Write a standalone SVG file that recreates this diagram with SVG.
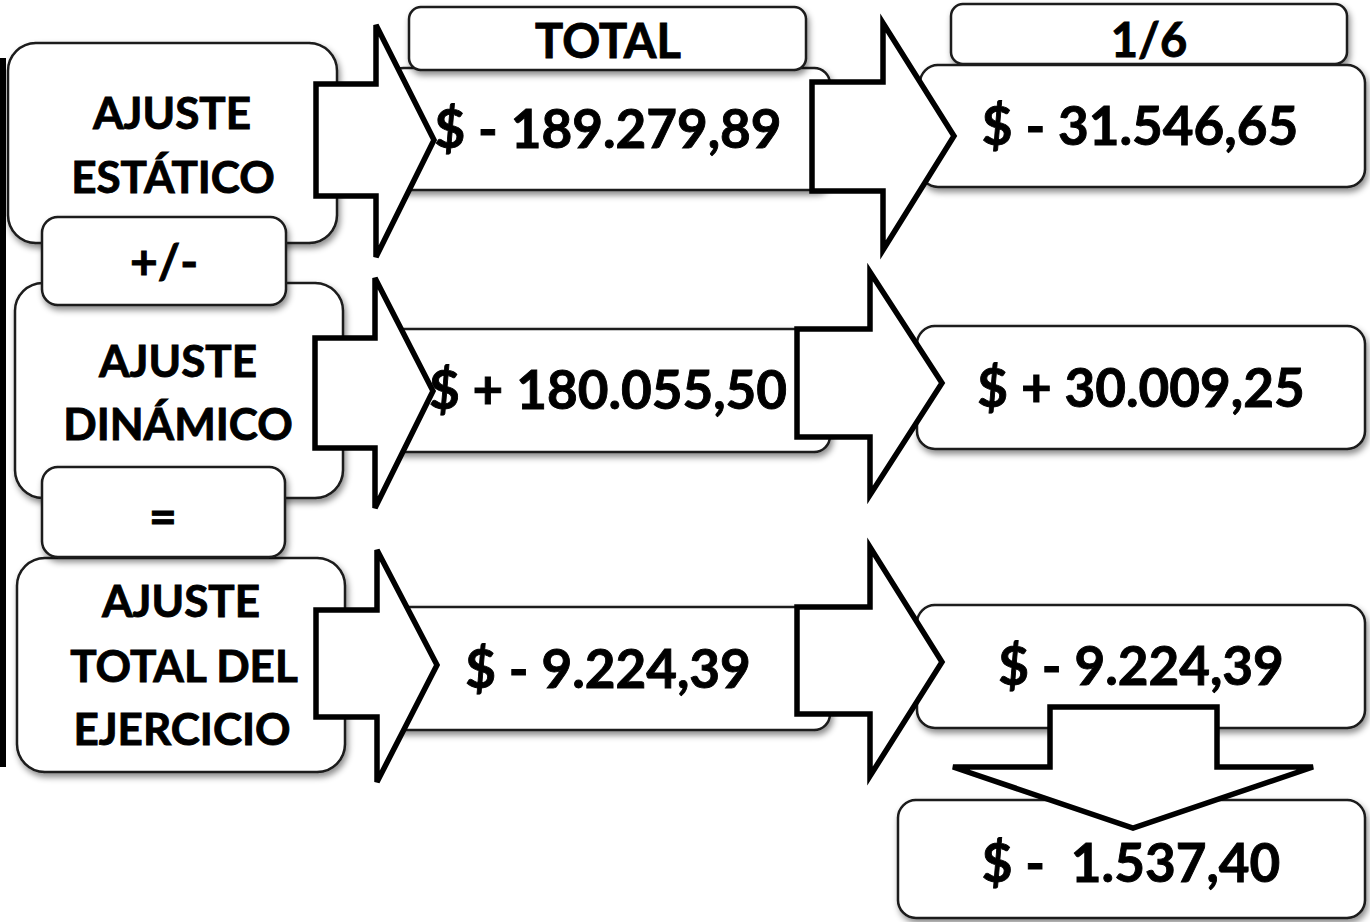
<svg xmlns="http://www.w3.org/2000/svg" width="1370" height="922" viewBox="0 0 1370 922">
<defs>
<filter id="sh" x="-10%" y="-10%" width="125%" height="135%">
<feDropShadow dx="2" dy="4" stdDeviation="3" flood-color="#000" flood-opacity="0.45"/>
</filter>
<style>
.box{fill:#fff;stroke:#1a1a1a;stroke-width:2.5;filter:url(#sh)}
.lbl{font-family:Lato,"Open Sans",sans-serif;font-weight:bold;font-size:44px;fill:#000;stroke:#000;stroke-width:0.9;text-anchor:middle}
.hdr{font-family:Lato,"Open Sans",sans-serif;font-weight:bold;font-size:47px;fill:#000;stroke:#000;stroke-width:0.9;text-anchor:middle}
.val{font-family:Lato,"Open Sans",sans-serif;font-weight:bold;font-size:53px;fill:#000;stroke:#000;stroke-width:0.9;text-anchor:middle;white-space:pre}
.arr{fill:#fff;stroke:#000;stroke-width:5.5;stroke-linejoin:miter}
</style>
</defs>
<rect x="0" y="0" width="1370" height="922" fill="#fff"/>
<rect id="side-bar" x="0" y="58" width="6" height="709" fill="#000"/>

<g id="n-estatico">
<rect class="box" x="8" y="43" width="329" height="200" rx="28"/>
<text class="lbl" x="172" y="129">AJUSTE</text>
<text class="lbl" x="173" y="193">ESTÁTICO</text>
</g>
<g id="n-dinamico">
<rect class="box" x="15" y="283" width="328" height="215" rx="28"/>
<text class="lbl" x="178" y="377">AJUSTE</text>
<text class="lbl" x="178" y="440">DINÁMICO</text>
</g>
<g id="n-plusminus">
<rect class="box" x="42" y="217" width="244" height="88" rx="16"/>
<text class="lbl" x="164" y="279" style="font-size:48px">+/-</text>
</g>
<g id="n-total-ejercicio">
<rect class="box" x="17" y="558" width="328" height="214" rx="28"/>
<text class="lbl" x="181" y="617">AJUSTE</text>
<text class="lbl" x="184" y="682">TOTAL DEL</text>
<text class="lbl" x="182" y="745">EJERCICIO</text>
</g>
<g id="n-equals">
<rect class="box" x="42" y="467" width="243" height="90" rx="16"/>
<text class="lbl" x="163" y="534" style="font-size:48px">=</text>
</g>

<g id="n-val1">
<rect class="box" x="388" y="68" width="442" height="122" rx="16"/>
<text class="val" x="608" y="148">$ - 189.279,89</text>
</g>
<g id="n-total-hdr">
<rect class="box" x="409" y="7" width="397" height="63" rx="12"/>
<text class="hdr" x="608" y="58">TOTAL</text>
</g>
<g id="n-val2">
<rect class="box" x="388" y="329" width="442" height="123" rx="16"/>
<text class="val" x="608" y="409">$ + 180.055,50</text>
</g>
<g id="n-val3">
<rect class="box" x="388" y="607" width="442" height="123" rx="16"/>
<text class="val" x="608" y="688">$ - 9.224,39</text>
</g>

<g id="n-sixth-hdr">
<rect class="box" x="951" y="4" width="396" height="60" rx="12"/>
<text class="hdr" x="1149" y="57">1/6</text>
</g>
<g id="n-r1">
<rect class="box" x="920" y="65" width="445" height="122" rx="18"/>
<text class="val" x="1140" y="145">$ - 31.546,65</text>
</g>
<g id="n-r2">
<rect class="box" x="917" y="326" width="448" height="123" rx="18"/>
<text class="val" x="1141" y="407">$ + 30.009,25</text>
</g>
<g id="n-r3">
<rect class="box" x="917" y="605" width="448" height="123" rx="18"/>
<text class="val" x="1141" y="685">$ - 9.224,39</text>
</g>
<g id="n-final">
<rect class="box" x="898" y="800" width="467" height="118" rx="18"/>
<text class="val" x="1131" y="882" xml:space="preserve">$ -  1.537,40</text>
</g>

<g id="connectors">
<polygon class="arr" points="316,84 376,84 376,25 434,140 376,257 376,196 316,196"/>
<polygon class="arr" points="812,82 883,82 883,23 954,136 883,250 883,191 812,191"/>
<polygon class="arr" points="315,338 375,338 375,278 433,391 375,508 375,448 315,448"/>
<polygon class="arr" points="797,329 870,329 870,272 942,383 870,495 870,437 797,437"/>
<polygon class="arr" points="316,610 377,610 377,550 437,665 377,782 377,717 316,717"/>
<polygon class="arr" points="797,607 870,607 870,547 942,662 870,776 870,714 797,714"/>
<polygon class="arr" points="1050,707 1217,707 1217,767 1313,767 1133,828 953,767 1050,767"/>
</g>
</svg>
